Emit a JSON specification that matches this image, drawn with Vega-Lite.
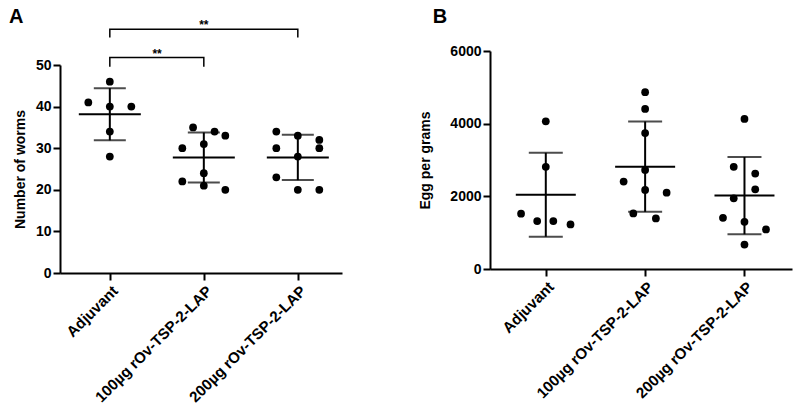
{
  "$schema": "https://vega.github.io/schema/vega-lite/v6.json",
  "background": "white",
  "padding": {"left": 8, "top": 7, "right": 4, "bottom": 4},
  "spacing": 76,
  "align": "none",
  "config": {
    "font": "Liberation Sans",
    "view": {"stroke": null},
    "axis": {
      "domainColor": "black", "domainWidth": 2,
      "tickColor": "black", "tickWidth": 2, "tickSize": 7,
      "labelColor": "black", "labelFontWeight": "bold", "labelFontSize": 14, "labelFont": "Liberation Sans",
      "titleFont": "Liberation Sans", "titleColor": "black", "titleFontWeight": "bold", "titleFontSize": 14,
      "grid": false, "labelPadding": 2, "titlePadding": 6
    },
    "axisX": {"labelFontSize": 15.2, "labelAngle": -45, "labelPadding": 3},
    "title": {"font": "Liberation Sans", "fontSize": 20, "fontWeight": "bold", "color": "black", "anchor": "start"}
  },
  "datasets": {
    "worms": [
      {"group": "Adjuvant", "slot": -2, "worms": 41},
      {"group": "Adjuvant", "slot": 0, "worms": 46},
      {"group": "Adjuvant", "slot": 0, "worms": 40},
      {"group": "Adjuvant", "slot": 2, "worms": 40},
      {"group": "Adjuvant", "slot": 0, "worms": 34},
      {"group": "Adjuvant", "slot": 0, "worms": 28},
      {"group": "100µg rOv-TSP-2-LAP", "slot": -2, "worms": 30},
      {"group": "100µg rOv-TSP-2-LAP", "slot": -1, "worms": 35},
      {"group": "100µg rOv-TSP-2-LAP", "slot": 0, "worms": 31},
      {"group": "100µg rOv-TSP-2-LAP", "slot": 1, "worms": 34},
      {"group": "100µg rOv-TSP-2-LAP", "slot": 2, "worms": 33},
      {"group": "100µg rOv-TSP-2-LAP", "slot": -2, "worms": 22},
      {"group": "100µg rOv-TSP-2-LAP", "slot": 0, "worms": 24},
      {"group": "100µg rOv-TSP-2-LAP", "slot": 0, "worms": 21},
      {"group": "100µg rOv-TSP-2-LAP", "slot": 2, "worms": 20},
      {"group": "200µg rOv-TSP-2-LAP", "slot": -2, "worms": 34},
      {"group": "200µg rOv-TSP-2-LAP", "slot": 0, "worms": 33},
      {"group": "200µg rOv-TSP-2-LAP", "slot": 2, "worms": 32},
      {"group": "200µg rOv-TSP-2-LAP", "slot": -2, "worms": 30},
      {"group": "200µg rOv-TSP-2-LAP", "slot": 2, "worms": 30},
      {"group": "200µg rOv-TSP-2-LAP", "slot": 0, "worms": 28},
      {"group": "200µg rOv-TSP-2-LAP", "slot": -2, "worms": 23},
      {"group": "200µg rOv-TSP-2-LAP", "slot": 0, "worms": 20},
      {"group": "200µg rOv-TSP-2-LAP", "slot": 2, "worms": 20}
    ],
    "eggs": [
      {"group": "Adjuvant", "slot": 0, "eggs": 4065},
      {"group": "Adjuvant", "slot": 0, "eggs": 2811},
      {"group": "Adjuvant", "slot": -2.3, "eggs": 1521},
      {"group": "Adjuvant", "slot": -0.8, "eggs": 1318},
      {"group": "Adjuvant", "slot": 0.7, "eggs": 1318},
      {"group": "Adjuvant", "slot": 2.3, "eggs": 1226},
      {"group": "100µg rOv-TSP-2-LAP", "slot": 0, "eggs": 4867},
      {"group": "100µg rOv-TSP-2-LAP", "slot": 0, "eggs": 4406},
      {"group": "100µg rOv-TSP-2-LAP", "slot": 0, "eggs": 3742},
      {"group": "100µg rOv-TSP-2-LAP", "slot": -2, "eggs": 2406},
      {"group": "100µg rOv-TSP-2-LAP", "slot": 0, "eggs": 2728},
      {"group": "100µg rOv-TSP-2-LAP", "slot": 0, "eggs": 2175},
      {"group": "100µg rOv-TSP-2-LAP", "slot": 2, "eggs": 2101},
      {"group": "100µg rOv-TSP-2-LAP", "slot": -1.1, "eggs": 1530},
      {"group": "100µg rOv-TSP-2-LAP", "slot": 1, "eggs": 1392},
      {"group": "200µg rOv-TSP-2-LAP", "slot": 0, "eggs": 4129},
      {"group": "200µg rOv-TSP-2-LAP", "slot": -1, "eggs": 2811},
      {"group": "200µg rOv-TSP-2-LAP", "slot": 1, "eggs": 2627},
      {"group": "200µg rOv-TSP-2-LAP", "slot": 1, "eggs": 2194},
      {"group": "200µg rOv-TSP-2-LAP", "slot": -1, "eggs": 1945},
      {"group": "200µg rOv-TSP-2-LAP", "slot": -2, "eggs": 1410},
      {"group": "200µg rOv-TSP-2-LAP", "slot": 0, "eggs": 1300},
      {"group": "200µg rOv-TSP-2-LAP", "slot": 2, "eggs": 1088},
      {"group": "200µg rOv-TSP-2-LAP", "slot": 0, "eggs": 673}
    ],
    "brackets": [
      {"bracket": 1, "ord": 1, "group": "Adjuvant", "y": 49.6},
      {"bracket": 1, "ord": 2, "group": "Adjuvant", "y": 51.8},
      {"bracket": 1, "ord": 3, "group": "100µg rOv-TSP-2-LAP", "y": 51.8},
      {"bracket": 1, "ord": 4, "group": "100µg rOv-TSP-2-LAP", "y": 49.6},
      {"bracket": 2, "ord": 1, "group": "Adjuvant", "y": 56.6},
      {"bracket": 2, "ord": 2, "group": "Adjuvant", "y": 58.6},
      {"bracket": 2, "ord": 3, "group": "200µg rOv-TSP-2-LAP", "y": 58.6},
      {"bracket": 2, "ord": 4, "group": "200µg rOv-TSP-2-LAP", "y": 56.6}
    ],
    "stars": [
      {"group": "Adjuvant", "slot": 4.4, "y": 51.8, "label": "**"},
      {"group": "100µg rOv-TSP-2-LAP", "slot": 0, "y": 58.6, "label": "**"}
    ]
  },
  "hconcat": [
    {
      "width": 282,
      "height": 222,
      "title": {"text": "A", "dx": -4.5, "offset": -8},
      "layer": [
        {
          "data": {"name": "worms"},
          "mark": {"type": "point", "filled": true, "color": "black", "size": 60, "opacity": 1, "shape": "circle"},
          "encoding": {
            "x": {"field": "group", "type": "nominal", "sort": ["Adjuvant", "100µg rOv-TSP-2-LAP", "200µg rOv-TSP-2-LAP"], "scale": {"type": "point", "padding": 0.5, "align": 0.53}, "axis": {"title": null}},
            "xOffset": {"field": "slot", "type": "quantitative", "scale": {"domain": [-2, 2], "range": [-21.5, 21.5]}},
            "y": {"field": "worms", "type": "quantitative", "scale": {"domain": [0, 50], "nice": false, "range": [222, 14]}, "axis": {"title": "Number of worms", "values": [0, 10, 20, 30, 40, 50], "titlePadding": 8}}
          }
        },
        {
          "data": {"name": "worms"},
          "mark": {"type": "errorbar", "extent": "stdev", "color": "black", "thickness": 2, "ticks": {"size": 32, "color": "black"}},
          "encoding": {
            "x": {"field": "group", "type": "nominal", "sort": ["Adjuvant", "100µg rOv-TSP-2-LAP", "200µg rOv-TSP-2-LAP"]},
            "y": {"field": "worms", "type": "quantitative", "title": "Number of worms"}
          }
        },
        {
          "data": {"name": "worms"},
          "mark": {"type": "tick", "color": "black", "thickness": 2, "size": 62, "opacity": 1},
          "encoding": {
            "x": {"field": "group", "type": "nominal", "sort": ["Adjuvant", "100µg rOv-TSP-2-LAP", "200µg rOv-TSP-2-LAP"]},
            "y": {"field": "worms", "aggregate": "mean", "type": "quantitative", "title": "Number of worms"}
          }
        },
        {
          "data": {"name": "brackets"},
          "mark": {"type": "line", "color": "black", "strokeWidth": 1.5},
          "encoding": {
            "x": {"field": "group", "type": "nominal", "sort": ["Adjuvant", "100µg rOv-TSP-2-LAP", "200µg rOv-TSP-2-LAP"]},
            "y": {"field": "y", "type": "quantitative", "title": "Number of worms"},
            "detail": {"field": "bracket", "type": "nominal"},
            "order": {"field": "ord", "type": "quantitative"}
          }
        },
        {
          "data": {"name": "stars"},
          "mark": {"type": "text", "fontSize": 12, "fontWeight": "bold", "baseline": "alphabetic", "color": "black"},
          "encoding": {
            "x": {"field": "group", "type": "nominal", "sort": ["Adjuvant", "100µg rOv-TSP-2-LAP", "200µg rOv-TSP-2-LAP"]},
            "xOffset": {"field": "slot", "type": "quantitative", "scale": {"domain": [-2, 2], "range": [-21.5, 21.5]}},
            "y": {"field": "y", "type": "quantitative", "title": "Number of worms"},
            "text": {"field": "label"}
          }
        }
      ]
    },
    {
      "width": 302,
      "height": 218,
      "title": {"text": "B", "dx": 14, "offset": 17},
      "layer": [
        {
          "data": {"name": "eggs"},
          "mark": {"type": "point", "filled": true, "color": "black", "size": 60, "opacity": 1, "shape": "circle"},
          "encoding": {
            "x": {"field": "group", "type": "nominal", "sort": ["Adjuvant", "100µg rOv-TSP-2-LAP", "200µg rOv-TSP-2-LAP"], "scale": {"type": "point", "padding": 0.52, "align": 0.54}, "axis": {"title": null}},
            "xOffset": {"field": "slot", "type": "quantitative", "scale": {"domain": [-2, 2], "range": [-21.5, 21.5]}},
            "y": {"field": "eggs", "type": "quantitative", "scale": {"domain": [0, 6000], "nice": false}, "axis": {"title": "Egg per grams", "values": [0, 2000, 4000, 6000], "format": "d", "titlePadding": 17}}
          }
        },
        {
          "data": {"name": "eggs"},
          "mark": {"type": "errorbar", "extent": "stdev", "color": "black", "thickness": 2, "ticks": {"size": 34, "color": "black"}},
          "encoding": {
            "x": {"field": "group", "type": "nominal", "sort": ["Adjuvant", "100µg rOv-TSP-2-LAP", "200µg rOv-TSP-2-LAP"]},
            "y": {"field": "eggs", "type": "quantitative", "title": "Egg per grams"}
          }
        },
        {
          "data": {"name": "eggs"},
          "mark": {"type": "tick", "color": "black", "thickness": 2, "size": 60, "opacity": 1},
          "encoding": {
            "x": {"field": "group", "type": "nominal", "sort": ["Adjuvant", "100µg rOv-TSP-2-LAP", "200µg rOv-TSP-2-LAP"]},
            "y": {"field": "eggs", "aggregate": "mean", "type": "quantitative", "title": "Egg per grams"}
          }
        }
      ]
    }
  ]
}
